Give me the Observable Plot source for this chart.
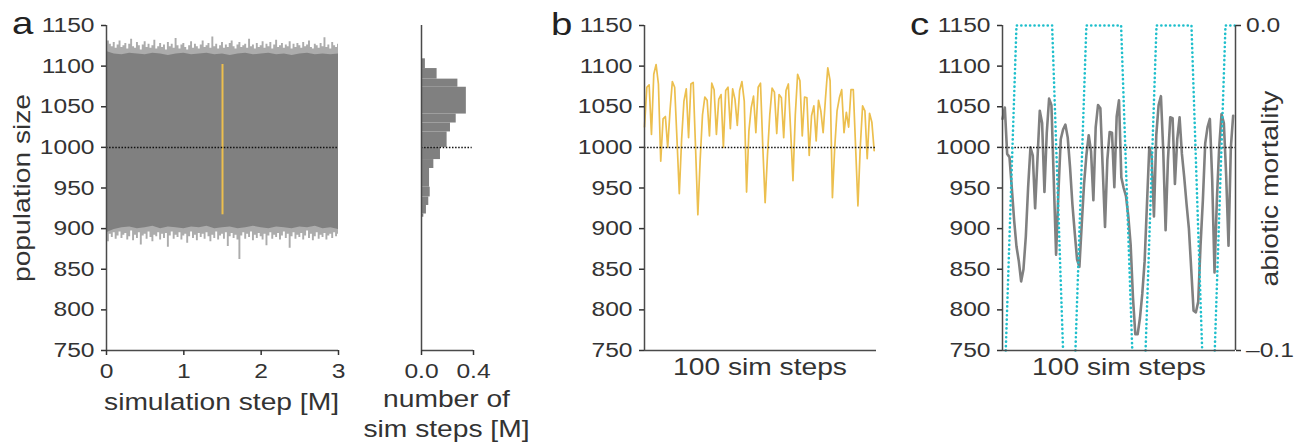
<!DOCTYPE html>
<html><head><meta charset="utf-8">
<script src="https://cdn.jsdelivr.net/npm/d3@7"></script>
<script src="https://cdn.jsdelivr.net/npm/@observablehq/plot@0.6"></script>
<style>
body{margin:0;background:#fff;}
#chart{position:relative;width:1294px;height:446px;overflow:hidden;font-family:"Liberation Sans",Arial,sans-serif;}
#chart svg{position:absolute;top:0;overflow:visible;}
</style></head><body><div id="chart"></div>
<script>
// ---------- data ----------
const popTicks = [750, 800, 850, 900, 950, 1000, 1050, 1100, 1150];
const popDomain = [750, 1150];
const equilibrium = 1000;

// panel a: 3M-step run (envelope of the dense trace), x in millions of steps
const aXTicks = [0, 1, 2, 3];
const aTopTip = [1141,1131,1127,1124,1129,1122,1126,1131,1123,1125,
  1128,1121,1127,1133,1124,1122,1129,1125,1120,1126,
  1130,1123,1127,1122,1125,1132,1121,1124,1128,1123,
  1126,1120,1129,1124,1127,1122,1134,1125,1121,1126,
  1128,1123,1120,1125,1130,1122,1127,1124,1121,1126,
  1131,1123,1125,1128,1122,1136,1124,1127,1121,1125,
  1129,1122,1126,1123,1128,1131,1124,1121,1126,1129,
  1123,1125,1127,1122,1133,1124,1126,1121,1128,1123,
  1125,1130,1122,1127,1124,1129,1121,1126,1132,1123,
  1125,1128,1122,1126,1124,1130,1121,1127,1123,1128,
  1125,1122,1129,1124,1126,1131,1123,1121,1127,1125,
  1122,1128,1124,1135,1123,1126,1121,1129,1125,1123,1127];
const aBottomTip = [852,884,893,889,895,887,891,896,888,892,
  894,886,890,897,885,892,888,895,880,891,
  893,887,896,889,884,892,890,895,886,893,
  888,894,877,891,896,887,892,889,895,886,
  891,893,882,890,896,888,892,885,894,889,
  893,887,895,890,884,892,888,896,886,891,
  893,887,895,878,890,894,888,892,886,862,
  891,895,887,893,889,896,885,892,888,894,
  890,886,893,879,891,895,887,892,889,894,
  886,891,896,888,893,876,890,895,887,892,
  889,894,886,891,897,888,893,885,890,895,
  887,892,889,894,886,891,893,888,895,890,893];
const aCoreTop = [1118,1115,1114,1116,1115,1114,1116,1115,1113,1115,1116,1114,1115,1116,1114,1115,1113,1115,1116,1114,1115,1116,1114,1115,1113,1115,1116,1114,1115,1114,1115];
const aCoreBottom = [895,899,901,902,900,901,903,900,902,901,900,902,901,903,900,901,902,900,901,903,901,900,902,901,900,902,901,903,900,901,899];
const windowStart = 1.5; // position of the 100-step window shown in b

// histogram: bin edges (population size) and counts (millions of steps)
const histHi = [1109, 1097, 1084, 1074, 1041, 1030, 1019, 1000, 985, 974, 951, 939, 928.5, 918];
const histLo = [1097, 1084, 1074, 1041, 1030, 1019, 1000, 985, 974, 951, 939, 928.5, 918, 914];
const histCount = [0.03, 0.12, 0.28, 0.345, 0.267, 0.223, 0.197, 0.146, 0.095, 0.062, 0.067, 0.056, 0.038, 0.018];
const histXTicks = [0, 0.4];

// panel b: 100 simulation steps
const bValues = [1025,1074,1077,1016,1090,1102,1078,983,1035,1038,
  1000,1045,1081,1074,1010,943,1010,1057,1072,1012,
  1078,1080,1000,917,985,1040,1062,1058,1014,1079,
  1071,1016,1059,1065,1000,1070,1074,1023,1072,1059,
  1027,1070,1081,1057,945,1020,1049,1063,1018,1074,
  1079,1000,932,990,1040,1073,1068,1017,1065,1061,
  1012,1070,1078,1020,959,1040,1090,1082,1014,1062,
  1061,990,1039,1051,1008,1058,1045,1018,1060,1098,
  1082,938,1000,1045,1061,1071,1018,1043,1025,1071,
  1071,1000,928,1000,1051,1045,986,1042,1031,996];

// panel c: 100 simulation steps with abiotic mortality
const cValues = [1035,1049,992,988,950,910,878,860,835,850,
  890,951,1000,990,925,985,1045,1030,945,1018,
  1060,1052,960,868,945,1010,1022,1028,1012,975,
  930,895,862,853,905,955,990,1015,995,935,
  1025,1052,1048,975,902,985,1019,1018,951,1038,
  1058,963,950,940,915,880,815,770,770,790,
  820,860,930,1000,990,915,1015,1052,1063,995,
  898,984,1037,1036,955,1010,1037,992,963,930,
  900,850,799,797,810,880,935,1005,1025,1035,
  960,846,935,1000,1041,1030,965,879,1000,1039];
const mortStep = [1.4, 6, 21.3, 26, 28, 31.3, 36, 50.9, 55.7, 58, 61.4, 66.1, 81.1, 85.7, 88, 91.1, 95.7, 100];
const mortValue = [-0.1, 0, 0, -0.1, null, -0.1, 0, 0, -0.1, null, -0.1, 0, 0, -0.1, null, -0.1, 0, 0];
const mortDomain = [-0.1, 0];
const mortTicks = [0, -0.1];
const mortTickLabels = ["0.0", "\u20130.1"];

// ---------- style ----------
const FONT = '"Liberation Sans", Arial, sans-serif';
const STRETCH = 1.2;
const axisColor = "#4a4a4a";
const textColor = "#333";
const orange = "#ecbf4e";
const cyan = "#1fbfcc";
const grayLine = "#808080";
const dotted = {stroke: "#111", strokeWidth: 1.5, strokeDasharray: "1.5,1.6"};
const axisLine = {stroke: axisColor, strokeWidth: 1.5};
const baseStyle = {fontFamily: FONT, fontSize: "20.5px", color: textColor, background: "transparent", overflow: "visible"};
const plain = d => String(d);
const yAxisOpts = {ticks: popTicks, tickFormat: plain, tickSize: 5, tickPadding: 7, strokeWidth: 1.5, color: textColor, label: null};

const chart = document.getElementById("chart");
function place(svg, left) {
  svg.style.left = left + "px";
  // widen glyphs about each label's own anchor point (the reference face is wider than Arial)
  svg.querySelectorAll("text").forEach(t => {
    const xa = t.getAttribute("x");
    const x = xa != null && isFinite(+xa) ? +xa : 0;
    if (xa != null && isFinite(+xa)) t.removeAttribute("x");
    const tr = t.getAttribute("transform") || "";
    t.setAttribute("transform", `${tr} translate(${x},0) scale(${STRETCH},1)`);
  });
  chart.appendChild(svg);
}

// ---------- panel a ----------
const tipRows = aTopTip.map((v, i) => ({x: i * 3 / (aTopTip.length - 1), top: v, bottom: aBottomTip[i]}));
const coreRows = aCoreTop.map((v, i) => ({x: i * 3 / (aCoreTop.length - 1), top: v, bottom: aCoreBottom[i]}));
const [bMin, bMax] = d3.extent(bValues);
place(Plot.plot({
  width: 350, height: 446, marginLeft: 106, marginRight: 12, marginTop: 25, marginBottom: 96,
  x: {domain: [0, 3]}, y: {domain: popDomain},
  style: baseStyle,
  marks: [
    Plot.areaY(tipRows, {x: "x", y1: "bottom", y2: "top", curve: "step", fill: "#acacac"}),
    Plot.areaY(coreRows, {x: "x", y1: "bottom", y2: "top", fill: "#808080"}),
    Plot.ruleX([windowStart], {y1: bMin, y2: bMax, stroke: orange, strokeWidth: 2}),
    Plot.ruleY([equilibrium], {x1: 0, x2: 3, ...dotted}),
    Plot.ruleX([0], {y1: popDomain[0], y2: popDomain[1], ...axisLine}),
    Plot.ruleY([popDomain[0]], {x1: 0, x2: 3, ...axisLine}),
    Plot.axisY(yAxisOpts),
    Plot.axisX({ticks: aXTicks, tickFormat: plain, tickSize: 5, tickPadding: 8, strokeWidth: 1.5, color: textColor, label: null})
  ]
}), 0);

// ---------- histogram ----------
const histRows = histCount.map((c, i) => ({count: c, lo: histLo[i], hi: histHi[i]}));
place(Plot.plot({
  width: 140, height: 446, marginLeft: 61, marginRight: 27, marginTop: 25, marginBottom: 96,
  x: {domain: [0, 0.4]}, y: {domain: popDomain, axis: null},
  style: baseStyle,
  marks: [
    Plot.rect(histRows, {x1: 0, x2: "count", y1: "lo", y2: "hi", fill: "#808080"}),
    Plot.ruleY([equilibrium], {x1: 0, x2: 0.39, ...dotted}),
    Plot.ruleX([0], {y1: popDomain[0], y2: popDomain[1], ...axisLine}),
    Plot.ruleY([popDomain[0]], {x1: 0, x2: 0.4, ...axisLine}),
    Plot.axisX({ticks: histXTicks, tickFormat: d => d.toFixed(1), tickSize: 5, tickPadding: 8, strokeWidth: 1.5, color: textColor, label: null})
  ]
}), 360);

// ---------- panel b ----------
const bRows = bValues.map((v, i) => ({step: i, pop: v}));
place(Plot.plot({
  width: 350, height: 446, marginLeft: 104, marginRight: 14, marginTop: 25, marginBottom: 96,
  x: {domain: [0, 100], axis: null}, y: {domain: popDomain},
  style: baseStyle,
  marks: [
    Plot.line(bRows, {x: "step", y: "pop", stroke: orange, strokeWidth: 1.7}),
    Plot.ruleY([equilibrium], {x1: 0, x2: 100, ...dotted}),
    Plot.ruleX([0], {y1: popDomain[0], y2: popDomain[1], ...axisLine}),
    Plot.ruleY([popDomain[0]], {x1: 0, x2: 100, ...axisLine}),
    Plot.axisY(yAxisOpts)
  ]
}), 540);

// ---------- panel c ----------
const mortToPop = m => popDomain[0] + (m - mortDomain[0]) / (mortDomain[1] - mortDomain[0]) * (popDomain[1] - popDomain[0]);
const cRows = cValues.map((v, i) => ({step: i, pop: v}));
const mortRows = mortStep.map((s, i) => ({step: s, y: mortValue[i] == null ? null : mortToPop(mortValue[i])}));
place(Plot.plot({
  width: 394, height: 446, marginLeft: 102, marginRight: 59, marginTop: 25, marginBottom: 96,
  x: {domain: [0, 100], axis: null}, y: {domain: popDomain},
  style: baseStyle,
  marks: [
    Plot.line(cRows, {x: "step", y: "pop", stroke: grayLine, strokeWidth: 2.6}),
    Plot.ruleY([equilibrium], {x1: 0, x2: 100, ...dotted}),
    Plot.line(mortRows, {x: "step", y: "y", stroke: cyan, strokeWidth: 2.6, strokeDasharray: "0.1,4.3", strokeLinecap: "round"}),
    Plot.ruleX([0], {y1: popDomain[0], y2: popDomain[1], ...axisLine}),
    Plot.ruleX([100], {y1: popDomain[0], y2: popDomain[1], ...axisLine}),
    Plot.ruleY([popDomain[0]], {x1: 0, x2: 100, ...axisLine}),
    Plot.axisY(yAxisOpts),
    Plot.axisY({anchor: "right", ticks: mortTicks.map(mortToPop), tickFormat: (d, i) => mortTickLabels[i], tickSize: 5, tickPadding: 5.5, strokeWidth: 1.5, color: textColor, label: null})
  ]
}), 900);

// ---------- titles ----------
const ns = "http://www.w3.org/2000/svg";
const over = document.createElementNS(ns, "svg");
over.setAttribute("width", 1294); over.setAttribute("height", 446);
over.style.left = "0px";
const titles = [
  {t: "a", x: 12, y: 34, size: 32, anchor: "start"},
  {t: "b", x: 551, y: 35, size: 32, anchor: "start"},
  {t: "c", x: 910, y: 35, size: 32, anchor: "start"},
  {t: "population size", x: 30, y: 188, size: 23.5, anchor: "middle", rot: true},
  {t: "simulation step [M]", x: 221.5, y: 410, size: 23.5, anchor: "middle"},
  {t: "number of", x: 446.5, y: 407, size: 23.5, anchor: "middle"},
  {t: "sim steps [M]", x: 446.5, y: 437, size: 23.5, anchor: "middle"},
  {t: "100 sim steps", x: 760, y: 375, size: 23.5, anchor: "middle"},
  {t: "100 sim steps", x: 1119, y: 375, size: 23.5, anchor: "middle"},
  {t: "abiotic mortality", x: 1278, y: 188.5, size: 23.5, anchor: "middle", rot: true}
];
for (const d of titles) {
  const el = document.createElementNS(ns, "text");
  el.textContent = d.t;
  el.setAttribute("transform", `translate(${d.x},${d.y})${d.rot ? " rotate(-90)" : ""} scale(${STRETCH},1)`);
  el.setAttribute("text-anchor", d.anchor);
  el.setAttribute("font-family", FONT);
  el.setAttribute("font-size", d.size);
  el.setAttribute("fill", d.size > 30 ? "#222" : textColor);
  over.appendChild(el);
}
chart.appendChild(over);
</script></body></html>
